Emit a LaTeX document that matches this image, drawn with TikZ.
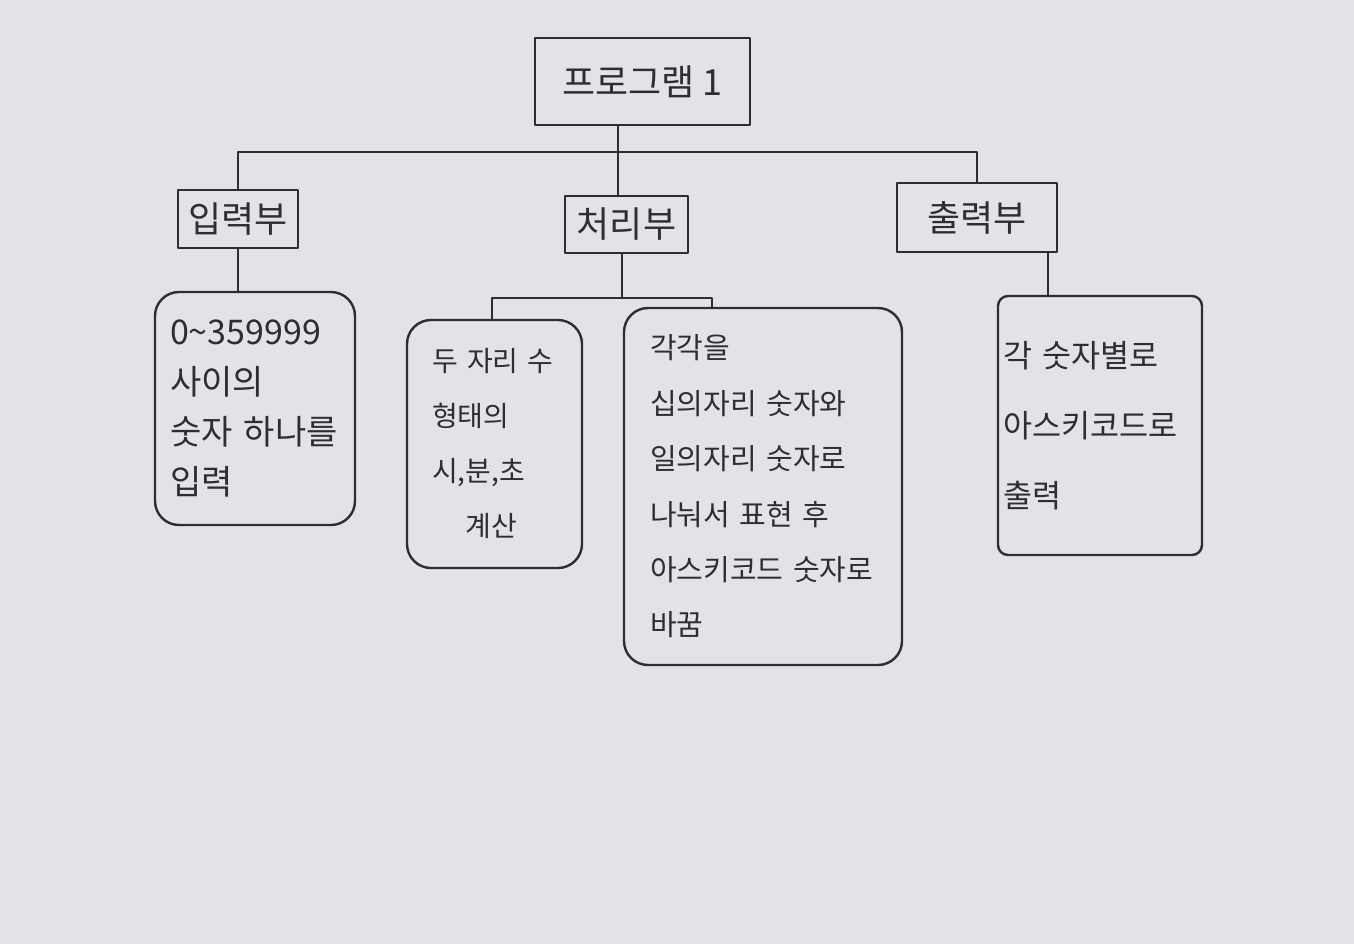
\documentclass[tikz,border=0pt]{standalone}
\usepackage{fontspec}
\setmainfont{Noto Sans CJK KR}
\definecolor{paper}{RGB}{226,226,232}
\definecolor{penc}{RGB}{45,45,52}
\begin{document}
\begin{tikzpicture}[x=0.5pt,y=-0.5pt,
  pen/.style={draw=penc, line width=1.2pt, line cap=round, line join=round},
  headbox/.style={pen, rectangle, inner sep=0pt, text=penc, font=\fontsize{18}{21}\selectfont},
  notebox/.style={pen, rectangle, inner sep=0pt, text=penc, align=left}]
\fill[paper] (0,0) rectangle (1354,944);
\useasboundingbox (0,0) rectangle (1354,944);

% headings
\node[headbox, minimum width=107.5pt, minimum height=43.5pt] (top) at (642.5,81.5) {프로그램 1};
\node[headbox, minimum width=60pt, minimum height=29pt] (inp) at (238,219) {입력부};
\node[headbox, minimum width=61.5pt, minimum height=28.5pt] (proc) at (626.5,224.5) {처리부};
\node[headbox, minimum width=80pt, minimum height=34.5pt] (outp) at (977,217.5) {출력부};

% note boxes
\node[notebox, rounded corners=12pt, minimum width=100pt, minimum height=116.5pt,
      text width=85pt, font=\fontsize{17}{25}\selectfont] (b1) at (255,408.5)
  {0\textasciitilde359999\\사이의\\숫자 하나를\\입력};
\node[notebox, rounded corners=12pt, minimum width=87.5pt, minimum height=124pt,
      text width=62.5pt, font=\fontsize{14}{27.5}\selectfont] (b2) at (494.5,444)
  {두 자리 수\\형태의\\시,분,초\\\hspace{1.2em}계산};
\node[notebox, rounded corners=12pt, minimum width=139pt, minimum height=178.5pt,
      text width=113pt, font=\fontsize{14.5}{27.7}\selectfont] (b3) at (763,486.5)
  {각각을\\십의자리 숫자와\\일의자리 숫자로\\나눠서 표현 후\\아스키코드 숫자로\\바꿈};
\node[notebox, rounded corners=5pt, minimum width=102pt, minimum height=129.5pt,
      text width=97pt, font=\fontsize{15.8}{35}\selectfont] (b4) at (1100,425.5)
  {각 숫자별로\\아스키코드로\\출력};

% junction coordinates
\coordinate (bus) at (618,152);
\coordinate (pj) at (622,298);
\coordinate (pjl) at (492,298);
\coordinate (pjr) at (712,298);
\coordinate (oj) at (1048,275);

% connectors
\draw[pen] (top.south -| bus) -- (bus);
\draw[pen] (inp.north) |- (bus) -| (outp.north);
\draw[pen] (bus) -- (bus |- proc.north);
\draw[pen] (inp.south) -- (inp.south |- b1.north);
\draw[pen] (proc.south -| pj) -- (pj);
\draw[pen] (pjl |- b2.north) -- (pjl) -- (pjr) -- (pjr |- b3.north);
\draw[pen] (outp.south -| oj) -- (oj |- b4.north);
\end{tikzpicture}
\end{document}
